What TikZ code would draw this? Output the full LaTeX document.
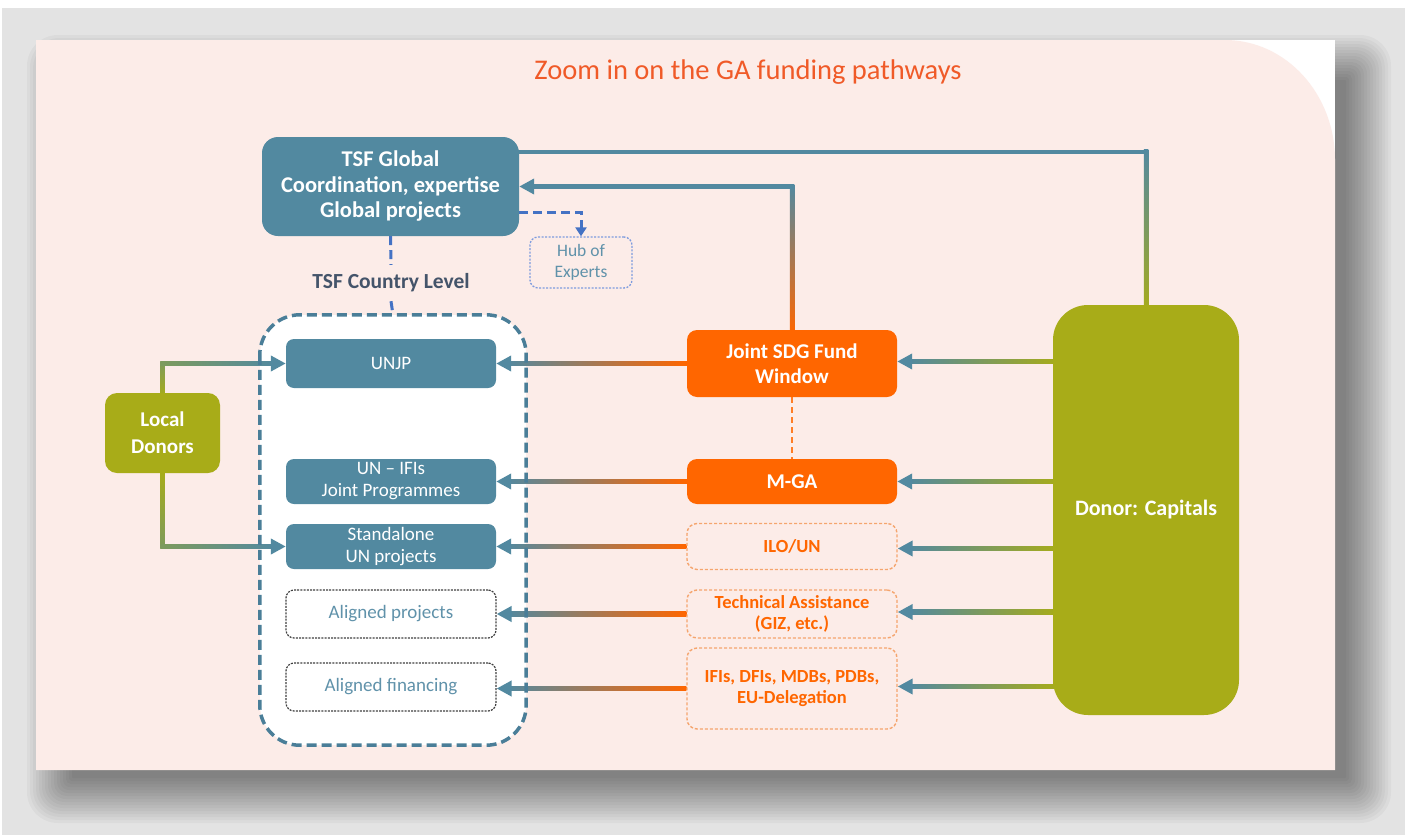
\documentclass[tikz,border=0pt]{standalone}
\usepackage{fontspec}
\setmainfont{Carlito}
\usetikzlibrary{calc,arrows.meta}
\pgfdeclarelayer{back}
\pgfdeclarelayer{conn}
\pgfsetlayers{back,conn,main}

\definecolor{cteal}{RGB}{82,137,160}
\definecolor{colive}{RGB}{168,172,24}
\definecolor{corange}{RGB}{255,102,0}
\definecolor{cpink}{RGB}{252,236,232}
\definecolor{cframe}{RGB}{227,227,227}
\definecolor{cblue}{RGB}{68,114,196}
\definecolor{chub}{RGB}{125,155,222}
\definecolor{cdash}{RGB}{74,126,152}
\definecolor{clight}{RGB}{245,165,110}
\definecolor{ctitle}{RGB}{240,90,40}
\definecolor{cslate}{RGB}{68,84,106}
\definecolor{ctext}{RGB}{96,146,170}
\definecolor{cmix}{RGB}{125,155,92}

% horizontal connector with a colour gradient, pointing left
% #1 source point, #2 tip point, #3 source colour, #4 tip colour
\newcommand\gradarrow[4]{%
  \shade[left color=#4, right color=#3] ($(#2)+(10,-2.25)$) rectangle ($(#1)+(0,2.25)$);
  \draw[tipline, #4] ($(#2)+(14,0)$) -- (#2);
}

\begin{document}
\begin{tikzpicture}[x=1pt,y=-1pt,
  tipline/.style={line width=4.5pt, -{Triangle[length=15pt,width=15pt]}},
  boxbase/.style={inner sep=0pt, align=center, minimum width=210pt},
  tealbox/.style={boxbase, fill=cteal, text=white, rounded corners=8pt,
    font=\fontsize{19}{22}\selectfont},
  alignbox/.style={boxbase, fill=white, draw=black!75, line width=1.2pt,
    dash pattern=on 2pt off 1.2pt, rounded corners=8pt, text=ctext,
    minimum height=48pt, font=\fontsize{19}{22}\selectfont},
  orangebox/.style={boxbase, fill=corange, text=white, rounded corners=10pt,
    font=\bfseries\fontsize{21}{25}\selectfont},
  lightbox/.style={boxbase, fill=cpink, draw=clight, line width=1.4pt,
    dash pattern=on 3pt off 2pt, rounded corners=10pt, text=corange,
    font=\bfseries\fontsize{18.5}{21}\selectfont},
  olivebox/.style={inner sep=0pt, align=center, fill=colive, text=white,
    font=\bfseries\fontsize{21}{27}\selectfont},
  bluedash/.style={cblue, line width=3pt, dash pattern=on 9pt off 5pt}
]
\useasboundingbox (0,0) rectangle (1411,835);

% ---------- frame, shadow and panel ----------
\begin{pgfonlayer}{back}
  \fill[white] (0,0) rectangle (1411,835);
  \fill[cframe] (2,8) rectangle (1405,835);
  \foreach \i [evaluate=\i as \r using 2*\i+1] in {0,...,15}
    \fill[black, opacity=0.03, rounded corners=\r pt]
      ({72-3*\i},{80-3*\i}) rectangle ({1346+3*\i},{778+3*\i});
  \fill[white] (36,40) rectangle (1335,770);
  \fill[cpink] (36,40) -- (1225,40) .. controls (1286,40) and (1335,94) .. (1335,160)
    -- (1335,770) -- (36,770) -- cycle;
  \node[fill=white, rounded corners=40pt, minimum width=266pt, minimum height=430pt,
    inner sep=0pt] (cont) at (393,530) {};
\end{pgfonlayer}

% ---------- title ----------
\node[font=\fontsize{28.5}{33}\selectfont, text=ctitle] (title) at (748,72)
  {Zoom in on the GA funding pathways};

% ---------- global level ----------
\node[tealbox, rounded corners=16pt, minimum width=257pt, minimum height=99pt,
  font=\bfseries\fontsize{22.5}{25.5}\selectfont] (tsf) at (390.5,186.5)
  {TSF Global\\Coordination, expertise\\Global projects};
\node[inner sep=0pt, align=center, minimum width=102pt, minimum height=51pt,
  fill=cpink, draw=chub, line width=1.3pt, dash pattern=on 2pt off 1.5pt,
  rounded corners=8pt, text=ctext, font=\fontsize{17.5}{21}\selectfont] (hub)
  at (581,262.5) {Hub of\\Experts};
\node[inner sep=0pt, minimum height=36pt, text=cslate,
  font=\bfseries\fontsize{21.5}{25}\selectfont] (lvl) at (391,283) {TSF Country Level};

% ---------- country level ----------
\node[tealbox, minimum height=49pt] (unjp) at (391,363.5) {UNJP};
\node[tealbox, minimum height=45pt] (unifi) at (391,481.5) {UN -- IFIs\\Joint Programmes};
\node[tealbox, minimum height=45pt] (stand) at (391,546.5) {Standalone\\UN projects};
\node[alignbox] (alproj) at (391,614) {Aligned projects};
\node[alignbox] (alfin) at (391,687) {Aligned financing};
\draw[cdash, line width=3.5pt, dash pattern=on 10pt off 5pt, rounded corners=40pt]
  (cont.north west) rectangle (cont.south east);

% ---------- funding channels ----------
\node[orangebox, minimum height=67pt] (jsdg) at (792,363.5) {Joint SDG Fund\\Window};
\node[orangebox, minimum height=45pt] (mga) at (792,481.5) {M-GA};
\node[lightbox, minimum height=46pt] (ilo) at (792,546.5) {ILO/UN};
\node[lightbox, minimum height=48pt] (ta) at (792,614) {Technical Assistance\\(GIZ, etc.)};
\node[lightbox, minimum height=81pt] (ifi) at (792,688.5) {IFIs, DFIs, MDBs, PDBs,\\EU-Delegation};

% ---------- donors ----------
\node[olivebox, minimum width=115pt, minimum height=80pt, rounded corners=12pt]
  (local) at (162.5,433) {Local\\Donors};
\node[olivebox, minimum width=186pt, minimum height=410pt, rounded corners=35pt,
  font=\bfseries\fontsize{22}{26}\selectfont] (donor) at (1146,510) {Donor: Capitals};

% ---------- connectors ----------
\begin{pgfonlayer}{conn}
  % capitals up to the global level
  \coordinate (tt) at ($(tsf.north)+(0,15)$);
  \coordinate (tc) at (donor.north |- tt);
  \draw[line width=4.5pt, cteal] (tt) -- ($(tc)+(2.25,0)$);
  \shade[top color=cteal, bottom color=colive] ($(tc)+(-2.25,-2.25)$) rectangle ($(donor.north)+(2.25,10)$);

  % joint SDG fund up to the global level
  \coordinate (jc) at (jsdg.north |- tsf.east);
  \shade[top color=cteal, bottom color=corange] ($(jc)+(-2.25,-2.25)$) rectangle ($(jsdg.north)+(2.25,4)$);
  \draw[tipline, cteal] ($(jc)+(2.25,0)$) -- (tsf.east);

  % global level to hub of experts and country level
  \draw[bluedash, -{Triangle[length=9pt,width=11pt]}] ($(tsf.east)+(0,25.5)$) -| (hub.north);
  \draw[bluedash] (tsf.south) -- (lvl.north);
  \draw[bluedash] (lvl.south) -- (cont.north);

  % joint SDG fund to M-GA
  \draw[corange!85, line width=2pt, dash pattern=on 6pt off 4pt] (jsdg.south) -- (mga.north);

  % channels to country-level instruments
  \coordinate (a1) at (unjp.east |- jsdg.west);
  \coordinate (a2) at (unifi.east |- mga.west);
  \coordinate (a3) at (stand.east |- ilo.west);
  \coordinate (a4) at (alproj.east |- ta.west);
  \coordinate (a5) at (alfin.east |- ifi.west);
  \gradarrow{jsdg.west}{a1}{corange}{cteal}
  \gradarrow{mga.west}{a2}{corange}{cteal}
  \gradarrow{ilo.west}{a3}{corange}{cteal}
  \gradarrow{ta.west}{a4}{corange}{cteal}
  \gradarrow{ifi.west}{a5}{corange}{cteal}

  % capitals to channels
  \coordinate (d1) at ($(donor.west |- jsdg.east)+(6,-2)$);
  \coordinate (d2) at ($(donor.west |- mga.east)+(6,0)$);
  \coordinate (d3) at ($(donor.west |- ilo.east)+(6,2)$);
  \coordinate (d4) at ($(donor.west |- ta.east)+(6,-2)$);
  \coordinate (d5) at ($(donor.west |- ifi.east)+(6,-2)$);
  \coordinate (e1) at (jsdg.east |- d1);
  \coordinate (e2) at (mga.east |- d2);
  \coordinate (e3) at (ilo.east |- d3);
  \coordinate (e4) at (ta.east |- d4);
  \coordinate (e5) at (ifi.east |- d5);
  \gradarrow{d1}{e1}{colive}{cteal}
  \gradarrow{d2}{e2}{colive}{cteal}
  \gradarrow{d3}{e3}{colive}{cteal}
  \gradarrow{d4}{e4}{colive}{cteal}
  \gradarrow{d5}{e5}{colive}{cteal}

  % local donors
  \coordinate (lc1) at (local.north |- unjp.west);
  \shade[top color=cmix, bottom color=colive] ($(lc1)+(-2.25,-2.25)$) rectangle ($(local.north)+(2.25,4)$);
  \shade[left color=cmix, right color=cteal] ($(lc1)+(-2.25,-2.25)$) rectangle ($(unjp.west)+(-10,2.25)$);
  \draw[tipline, cteal] ($(unjp.west)+(-14,0)$) -- (unjp.west);
  \coordinate (lc2) at (local.south |- stand.west);
  \shade[top color=colive, bottom color=cmix] ($(local.south)+(-2.25,-4)$) rectangle ($(lc2)+(2.25,2.25)$);
  \shade[left color=cmix, right color=cteal] ($(lc2)+(-2.25,-2.25)$) rectangle ($(stand.west)+(-10,2.25)$);
  \draw[tipline, cteal] ($(stand.west)+(-14,0)$) -- (stand.west);
\end{pgfonlayer}
\end{tikzpicture}
\end{document}
